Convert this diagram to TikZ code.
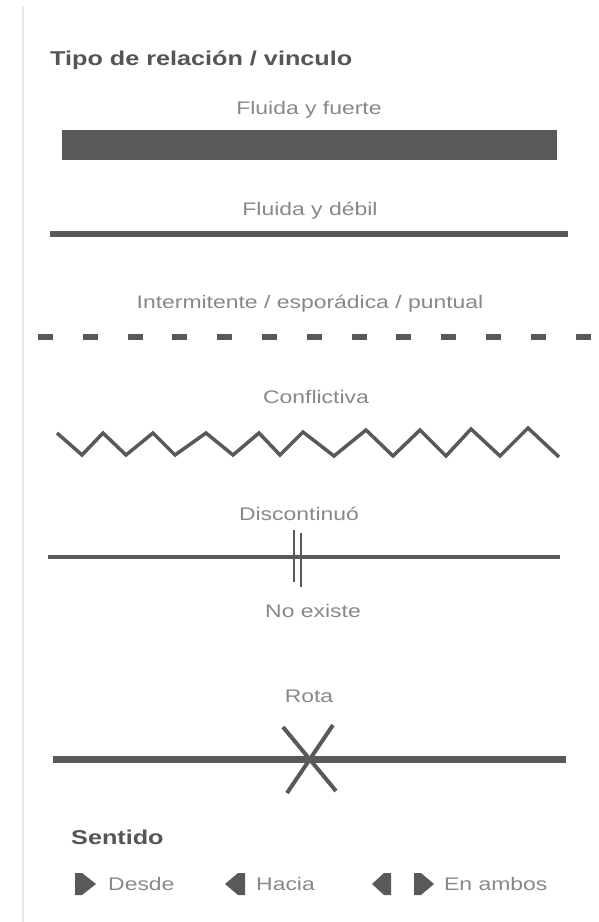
\documentclass[tikz,border=0pt]{standalone}
\usepackage{fontspec}
\setmainfont{Liberation Sans}
\usepackage{graphicx}
\definecolor{dark}{HTML}{58595B}
\definecolor{labelgray}{HTML}{888888}
\definecolor{titlegray}{HTML}{555555}
\definecolor{edgegray}{HTML}{E6E6E6}
\newcommand{\stretchtxt}[1]{\scalebox{1.26}[1]{#1}}
\tikzset{
  lbl/.style={anchor=base, inner sep=0pt, text=labelgray, font=\fontsize{18.2}{22}\selectfont},
  lblw/.style={lbl, anchor=base west},
  ttl/.style={anchor=base west, inner sep=0pt, text=titlegray, font=\fontsize{20}{24}\selectfont\bfseries},
  sample/.style={draw=dark, line cap=butt},
  arrowshape/.style={fill=dark, draw=none},
}
\begin{document}
\begin{tikzpicture}[x=1pt, y=-1pt]
\useasboundingbox (0,0) rectangle (598,922);
\fill[white] (0,0) rectangle (598,922);
% left border
\draw[edgegray, line width=2] (23,6) -- (23,922);

% title
\node[ttl] (title) at (50,65) {\stretchtxt{Tipo de relación / vinculo}};

% Fluida y fuerte
\node[lbl] (fuerte) at (309,114) {\stretchtxt{Fluida y fuerte}};
\fill[dark] (62,130) rectangle (557,160);

% Fluida y debil
\node[lbl] (debil) at (310,215) {\stretchtxt{Fluida y débil}};
\draw[sample, line width=6.5] (50,234) -- (568,234);

% Intermitente
\node[lbl] (inter) at (310,308) {\stretchtxt{Intermitente / esporádica / puntual}};
\draw[sample, line width=5.5, dash pattern=on 15 off 29.8] (38,337) -- (591,337);

% Conflictiva
\node[lbl] (confl) at (316,403) {\stretchtxt{Conflictiva}};
\draw[sample, line width=3.5, line join=miter]
  (57,433) -- (82,455) -- (103,433) -- (126,455) -- (153,433) -- (175,455)
  -- (206,433) -- (233,455) -- (259,433) -- (280,455) -- (303,432) -- (334,456)
  -- (366,430) -- (393,456) -- (420,430) -- (446,456) -- (471,429) -- (500,456)
  -- (528,428) -- (559,457);

% Discontinuo
\node[lbl] (disc) at (299,520) {\stretchtxt{Discontinuó}};
\draw[sample, line width=4] (48,557) -- (560,557);
\draw[sample, line width=2] (294,530) -- (294,582);
\draw[sample, line width=2] (301,533) -- (301,587);

% No existe
\node[lbl] (noex) at (313,617) {\stretchtxt{No existe}};

% Rota
\node[lbl] (rota) at (309,702) {\stretchtxt{Rota}};
\draw[sample, line width=7] (53,759) -- (566,759);
\draw[sample, line width=4] (283,727) -- (336,791);
\draw[sample, line width=4] (333,725) -- (287,793);

% Sentido
\node[ttl] (sentido) at (71,844) {\stretchtxt{Sentido}};

% Desde
\fill[arrowshape] (75,873) -- (82,873) -- (96,884) -- (82,895) -- (75,895) -- cycle;
\node[lblw] (desde) at (108,890) {\stretchtxt{Desde}};
% Hacia
\fill[arrowshape] (245,873) -- (238,873) -- (225,884) -- (238,895) -- (245,895) -- cycle;
\node[lblw] (hacia) at (256,890) {\stretchtxt{Hacia}};
% En ambos
\fill[arrowshape] (391,873) -- (384,873) -- (372,884) -- (384,895) -- (391,895) -- cycle;
\fill[arrowshape] (414,873) -- (421,873) -- (434,884) -- (421,895) -- (414,895) -- cycle;
\node[lblw] (ambos) at (444,890) {\stretchtxt{En ambos}};
\end{tikzpicture}
\end{document}
